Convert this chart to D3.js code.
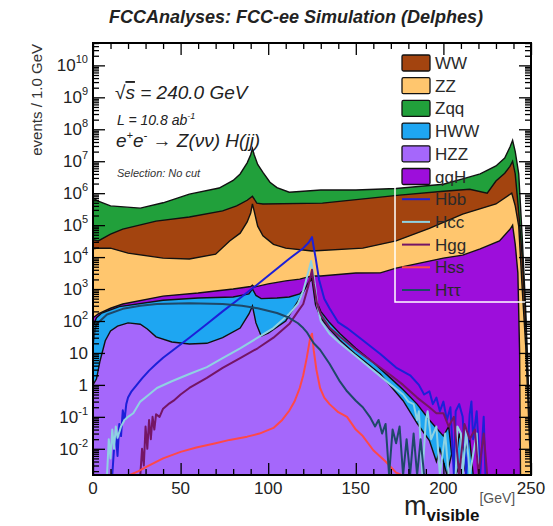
<!DOCTYPE html>
<html>
<head>
<meta charset="utf-8">
<script src="https://cdn.jsdelivr.net/npm/d3@7"></script>
<style>
body { margin: 0; background: #fff; }
svg { font-family: "Liberation Sans", Arial, Helvetica, sans-serif; }
</style>
</head>
<body>
<div class="content"></div>
<script>
var svgWidth = 553;
var svgHeight = 526;

// Plot frame in pixels.
var plotLeft = 93, plotRight = 531, plotTop = 43, plotBottom = 475;

// Stacked backgrounds, cumulative heights as drawn: [m_visible (GeV), events / 1 GeV].
var hzz = [[0,1],[2,1.55],[4,5.6],[7,24],[10,49],[14,69],[20,87],[27,79],[31,56],[36,32],[45,22],[55,19],[65,20],[74,30],[84,60],[89,166],[91,295],[93,87],[96,34],[100,42],[110,100],[117,420],[121,1000],[123,1600],[125,2000],[126,800],[127,320],[130,126],[135,56],[141,25],[150,9],[164,2.2],[177,0.32],[185,0.063],[192,0.018],[196,0.004],[198,0.01],[200,0.004],[202,0],[205,0.008],[207,0],[211,0.005],[213,0],[250,0]];
var hww = [[0,69],[2,126],[5,178],[15,282],[40,447],[60,525],[80,562],[89,708],[91,1000],[93,630],[96,500],[105,525],[112,562],[118,708],[121,1000],[123,1400],[125,2240],[126,1000],[127,500],[130,200],[135,89],[141,40],[150,14],[160,5],[170,1.6],[177,0.7],[185,0.25],[192,0.08],[200,0.025],[203,0.05],[206,0],[209,0.03],[212,0.008],[215,0.02],[217,0],[250,0]];
var qqh = [[0,126],[3,166],[10,250],[17,340],[40,600],[60,750],[80,1000],[90,1200],[91,1320],[92,1150],[100,1450],[110,1800],[118,2040],[125,2570],[130,2570],[150,3160],[164,3200],[173,4500],[200,9300],[211,11500],[221,18000],[232,32000],[238,74000],[239.5,100000],[241,25000],[242.5,3200],[243.5,10],[244,0],[250,0]];
var zz = [[0,18000],[3,19000],[10,19000],[20,13300],[40,9300],[55,8700],[70,12300],[78,32000],[84,56000],[88,126000],[90,240000],[91,460000],[92,275000],[94,93000],[97,46000],[103,25000],[110,19000],[125,15500],[154,19000],[173,32000],[192,79000],[211,220000],[230,460000],[239,1.0e6],[241,4.0e5],[243,93000],[245,1000],[247,16],[249,0.03],[250,0]];
var ww = [[0,35000],[3,32000],[10,52000],[17,75000],[36,133000],[55,180000],[74,280000],[82,400000],[88,600000],[91,800000],[93.5,490000],[97,460000],[131,490000],[175,870000],[200,1.15e6],[215,1.33e6],[225,1.0e6],[230,2.4e6],[235,4.2e6],[238,6.9e6],[239.5,1.0e7],[241,4.0e6],[243,2.5e5],[245,1.0e4],[247,100],[249,0.1],[250,0]];
var zqq = [[0,7.1e5],[3,5.6e5],[10,4.0e5],[27,3.4e5],[40,5.0e5],[55,9.3e5],[72,1.45e6],[80,2.5e6],[84,4.0e6],[88,8.9e6],[90,1.6e7],[91,2.5e7],[92,1.6e7],[94,7.9e6],[97,4.5e6],[101,2.2e6],[105,1.5e6],[112,1.07e6],[130,1.26e6],[150,1.26e6],[173,1.4e6],[200,1.9e6],[211,2.8e6],[221,4.0e6],[230,7.1e6],[235,1.26e7],[238,2.8e7],[239.5,4.5e7],[241,2.0e7],[243,4.0e6],[245,4.0e4],[247,200],[249,0.16],[250,0]];

// Signal histograms drawn as lines.
var hbb = [[11,0],[12,0.01],[13,0.03],[14,0.006],[15,0.06],[16,0.025],[17,0.16],[18,0.08],[19,0.25],[20,0.4],[22,0.63],[25,1.0],[28,1.6],[32,2.8],[36,4.5],[40,7.1],[46,12.6],[55,30],[65,80],[74,200],[84,525],[94,1410],[103,3550],[112,8900],[120,19000],[123,28000],[125,42000],[126,20000],[127,10000],[129,2000],[132,500],[135,250],[140,90],[145,60],[154,25],[164,9.3],[173,3.5],[181,2.0],[186,1.0],[189,0.5],[192,0.63],[194,0.25],[196,0.4],[198,0.15],[200,0.3],[202,0.08],[204,0.2],[206,0],[207,0.15],[209,0.25],[211,0.1],[213,0],[215,0.12],[216,0.3],[217,0.02],[219,0.15],[221,0],[223,0.1],[224,0]];
var hcc = [[8,0],[9,0.02],[10,0.005],[11,0.04],[12,0.01],[13,0.05],[14,0.022],[16,0.05],[18,0.08],[20,0.1],[23,0.13],[27,0.3],[32,0.5],[36.5,0.8],[45,1.3],[55,2.2],[65,3.6],[74,6.9],[84,14],[94,30],[103,60],[112,166],[117,350],[120,870],[123,3600],[124.5,7500],[126,2500],[127,1000],[128,320],[130,100],[135,40],[141,20],[150,8],[160,2.8],[170,1.0],[177,0.5],[180,0.3],[183,0.25],[185,0.08],[186,0.15],[188,0],[190,0.08],[191,0.15],[193,0.02],[196,0.05],[198,0],[201,0.03],[203,0],[207,0],[208,0.05],[210,0.03],[211,0],[213,0.04],[215,0],[219,0.03],[220,0]];
var hgg = [[27,0],[28,0.01],[29,0.003],[30,0.05],[31,0.01],[32,0.08],[33,0.02],[34,0.1],[35,0.04],[36,0.12],[38,0.1],[40,0.18],[43,0.25],[46,0.32],[50,0.5],[55,0.8],[65,1.66],[74,3.4],[84,6.9],[94,14],[103,30],[112,80],[117,200],[120,340],[123,1300],[125,4000],[126,1500],[128,320],[130,160],[135,63],[141,32],[150,12.6],[160,5],[170,2],[177,1],[185,0.4],[192,0.2],[196,0.13],[200,0.13],[203,0.05],[206,0.1],[209,0],[212,0.06],[215,0.02],[218,0.04],[220,0],[223,0.03],[225,0]];
var hss = [[20,0],[21,0.0014],[26,0.002],[31,0.0028],[40,0.005],[50,0.008],[59,0.011],[70,0.015],[78,0.019],[88,0.024],[95,0.03],[103,0.045],[108,0.08],[112,0.155],[115,0.3],[118,0.8],[120,2],[122,7],[124,30],[125,40],[126,12],[127.5,3],[129.6,0.8],[132,0.4],[135,0.25],[140,0.14],[145,0.1],[150,0.04],[154,0.025],[160,0.009],[167,0.004],[173,0.0018],[176,0]];
var htautau = [[0,20],[1,50],[2,80],[4,100],[8,160],[17,240],[27,300],[36.5,340],[55,360],[74,340],[85,300],[94,250],[105,178],[112,126],[117,85],[120,60],[122,45],[124,30],[126,20],[129.6,12.6],[135,4.6],[141,1.26],[145,0.63],[150,0.32],[154,0.2],[158,0.1],[161,0.05],[163,0.08],[165,0.03],[167,0.06],[169,0],[171,0.04],[173,0.015],[175,0.05],[177,0],[179,0.02],[181,0],[183,0.03],[185,0],[187,0.02],[189,0]];

// Legend entries and tick labels.
var legendNames = ["WW", "ZZ", "Zqq", "HWW", "HZZ", "qqH", "Hbb", "Hcc", "Hgg", "Hss", "H\u03c4\u03c4"];
var xTickValues = [0, 50, 100, 150, 200, 250];
var yTickExponents = [-2, -1, 0, 1, 2, 3, 4, 5, 6, 7, 8, 9, 10];

// Colours.
var fillColors = {"WW": "#a3440f", "ZZ": "#ffc66e", "Zqq": "#21a03b", "HWW": "#1ea6f2", "HZZ": "#a567fb", "qqH": "#9d0edb"};
var lineColors = {"Hbb": "#1c20d8", "Hcc": "#8fd2e2", "Hgg": "#741565", "Hss": "#ff4848", "H\u03c4\u03c4": "#1e4868"};

// Stack drawn from the tallest cumulative layer down.
var stackOrder = [["Zqq", zqq], ["WW", ww], ["ZZ", zz], ["qqH", qqh], ["HWW", hww], ["HZZ", hzz]];
var lineOrder = [["Hbb", hbb], ["Hcc", hcc], ["Hgg", hgg], ["Hss", hss], ["H\u03c4\u03c4", htautau]];

var yMin = Math.pow(10, -2.82), yMax = Math.pow(10, 10.7);

var x = d3.scaleLinear().domain([0, 250]).range([plotLeft, plotRight]);
var y = d3.scaleLog().domain([yMin, yMax]).range([plotBottom, plotTop]);
function yv(v) { return y(Math.max(v, yMin)); }

var svg = d3.select(".content")
	.append("svg")
	.attr("width", svgWidth)
	.attr("height", svgHeight);

svg.append("defs").append("clipPath")
	.attr("id", "plotClip")
	.append("rect")
	.attr("x", plotLeft).attr("y", plotTop)
	.attr("width", plotRight - plotLeft).attr("height", plotBottom - plotTop);

// Title.
svg.append("text")
	.attr("x", 296).attr("y", 23)
	.attr("text-anchor", "middle")
	.attr("font-size", 18).attr("font-weight", "bold").attr("font-style", "italic")
	.attr("fill", "#222")
	.text("FCCAnalyses: FCC-ee Simulation (Delphes)");

// Annotation text (drawn below the histograms).
var note = svg.append("g").attr("fill", "#222").attr("font-style", "italic");
var t1 = note.append("text").attr("x", 115).attr("y", 99).attr("font-size", 19);
t1.append("tspan").attr("font-style", "normal").text("\u221a");
t1.append("tspan").style("text-decoration", "overline").text("s");
t1.append("tspan").text(" = 240.0 GeV");
var t2 = note.append("text").attr("x", 117).attr("y", 125).attr("font-size", 14);
t2.append("tspan").text("L = 10.8 ab");
t2.append("tspan").attr("dy", -6).attr("font-size", 9).text("-1");
var t3 = note.append("text").attr("x", 116).attr("y", 147).attr("font-size", 19);
t3.append("tspan").text("e");
t3.append("tspan").attr("dy", -8).attr("font-size", 11).text("+");
t3.append("tspan").attr("dy", 8).text("e");
t3.append("tspan").attr("dy", -8).attr("font-size", 11).text("-");
t3.append("tspan").attr("dy", 8).attr("font-style", "normal").text(" \u2192 ");
t3.append("tspan").text("Z(\u03bd\u03bd) H(jj)");
note.append("text").attr("x", 117).attr("y", 177).attr("font-size", 11)
	.attr("fill", "#333").text("Selection: No cut");

var plot = svg.append("g").attr("clip-path", "url(#plotClip)");

var area = d3.area()
	.x(function(d) { return x(d[0]); })
	.y0(plotBottom + 2)
	.y1(function(d) { return yv(d[1]); });
var line = d3.line()
	.x(function(d) { return x(d[0]); })
	.y(function(d) { return yv(d[1]); });

// Filled stack, each layer with a black outline.
stackOrder.forEach(function(s) {
	plot.append("path")
		.datum(s[1])
		.attr("d", area)
		.attr("fill", fillColors[s[0]]);
	plot.append("path")
		.datum(s[1])
		.attr("d", line)
		.attr("fill", "none")
		.attr("stroke", "#111")
		.attr("stroke-width", 1.4);
});

// Signal lines.
lineOrder.forEach(function(s) {
	plot.append("path")
		.datum(s[1])
		.attr("d", line)
		.attr("fill", "none")
		.attr("stroke", lineColors[s[0]])
		.attr("stroke-width", 2)
		.attr("stroke-linejoin", "round");
});

// Legend (transparent, white border).
svg.append("rect")
	.attr("x", 395).attr("y", 49).attr("width", 134).attr("height", 253)
	.attr("fill", "none").attr("stroke", "#fff").attr("stroke-width", 1.5);
var legend = svg.append("g");
legendNames.forEach(function(name, i) {
	var cy = 63 + i * 22.7;
	if (fillColors[name]) {
		legend.append("rect")
			.attr("x", 402).attr("y", cy - 8).attr("width", 28).attr("height", 16)
			.attr("rx", 1.5)
			.attr("fill", fillColors[name]).attr("stroke", "#111").attr("stroke-width", 1.3);
	} else {
		legend.append("line")
			.attr("x1", 402).attr("x2", 430).attr("y1", cy).attr("y2", cy)
			.attr("stroke", lineColors[name]).attr("stroke-width", 2);
	}
	legend.append("text")
		.attr("x", 435).attr("y", cy + 6)
		.attr("font-size", 17).attr("fill", "#2a2a2a")
		.text(name);
});

// Ticks on all four sides, pointing inwards.
var yMajor = yTickExponents.map(function(e) { return Math.pow(10, e); });
var yMinor = [];
for (var e = -3; e <= 10; e++) {
	for (var k = 2; k <= 9; k++) {
		var v = k * Math.pow(10, e);
		if (v > yMin && v < yMax) yMinor.push(v);
	}
}
var xMinor = d3.range(0, 251, 10).filter(function(v) { return v % 50 !== 0; });

function tickGroup(axis, tx, ty) {
	svg.append("g")
		.attr("transform", "translate(" + tx + "," + ty + ")")
		.attr("color", "#000")
		.attr("stroke-width", 1.3)
		.call(axis.tickFormat(""))
		.call(function(g) { g.select(".domain").remove(); });
}
tickGroup(d3.axisLeft(y).tickValues(yMajor).tickSize(-12), plotLeft, 0);
tickGroup(d3.axisLeft(y).tickValues(yMinor).tickSize(-6), plotLeft, 0);
tickGroup(d3.axisRight(y).tickValues(yMajor).tickSize(-12), plotRight, 0);
tickGroup(d3.axisRight(y).tickValues(yMinor).tickSize(-6), plotRight, 0);
tickGroup(d3.axisBottom(x).tickValues(xTickValues).tickSize(-12), 0, plotBottom);
tickGroup(d3.axisBottom(x).tickValues(xMinor).tickSize(-6), 0, plotBottom);
tickGroup(d3.axisTop(x).tickValues(xTickValues).tickSize(-12), 0, plotTop);
tickGroup(d3.axisTop(x).tickValues(xMinor).tickSize(-6), 0, plotTop);

// Frame.
svg.append("rect")
	.attr("x", plotLeft).attr("y", plotTop)
	.attr("width", plotRight - plotLeft).attr("height", plotBottom - plotTop)
	.attr("fill", "none").attr("stroke", "#000").attr("stroke-width", 2);

// Tick labels.
var labels = svg.append("g").attr("font-size", 17).attr("fill", "#222");
yTickExponents.forEach(function(e) {
	var t = labels.append("text")
		.attr("x", 88).attr("y", y(Math.pow(10, e)) + 6)
		.attr("text-anchor", "end");
	if (e === 0) t.text("1");
	else if (e === 1) t.text("10");
	else {
		t.append("tspan").text("10");
		t.append("tspan").attr("dy", -8).attr("font-size", 11).text(e);
	}
});
xTickValues.forEach(function(v) {
	labels.append("text")
		.attr("x", x(v)).attr("y", 494)
		.attr("text-anchor", "middle")
		.text(v);
});

// Axis titles.
svg.append("text")
	.attr("transform", "translate(42," + (plotTop + 1) + ") rotate(-90)")
	.attr("text-anchor", "end")
	.attr("font-size", 15).attr("fill", "#333")
	.text("events / 1.0 GeV");

var xt = svg.append("text").attr("x", 404).attr("y", 515).attr("fill", "#222");
xt.append("tspan").attr("font-size", 27).text("m");
xt.append("tspan").attr("dy", 6).attr("font-size", 17).attr("font-weight", "bold").attr("fill", "#111").text("visible");
xt.append("tspan").attr("dy", -18).attr("font-size", 14).attr("fill", "#555").text("[GeV]");
</script>
</body>
</html>
